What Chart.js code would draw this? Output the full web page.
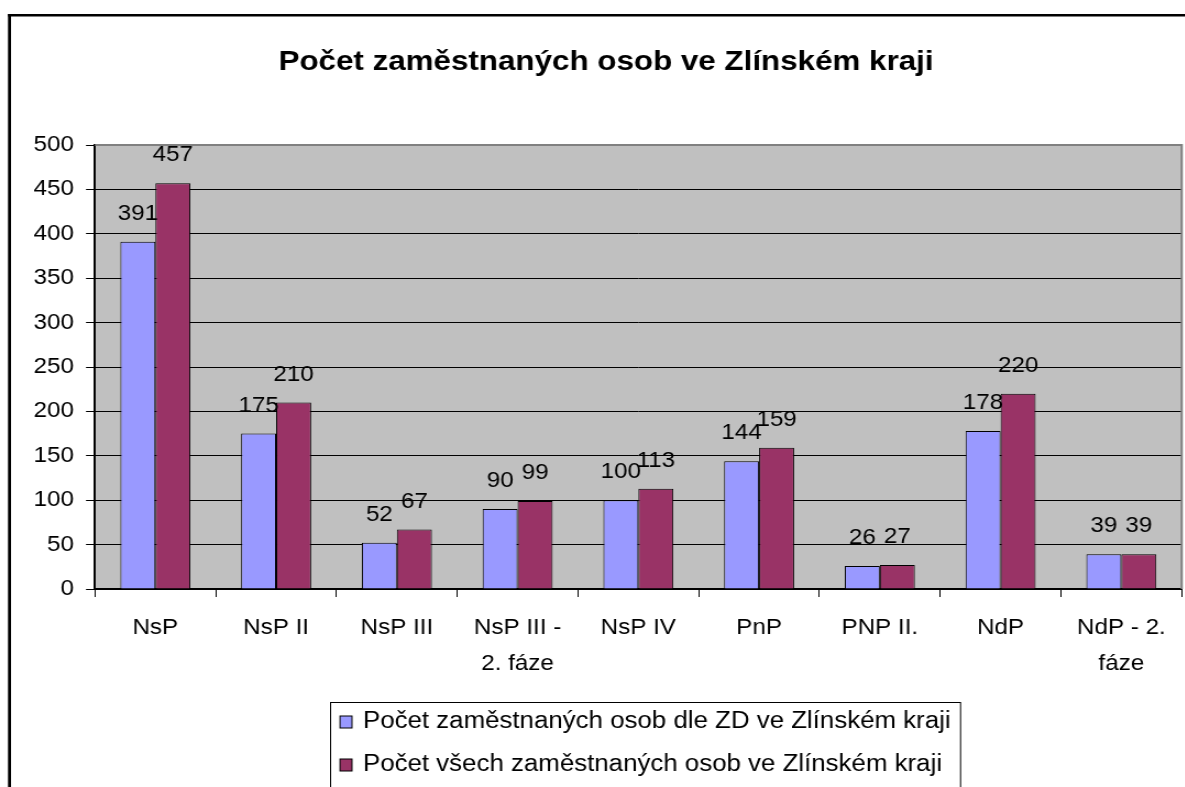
<!DOCTYPE html>
<html>
<head>
<meta charset="utf-8">
<script src="https://cdn.jsdelivr.net/npm/chart.js@4.4.1/dist/chart.umd.min.js"></script>
<style>
  html, body { margin: 0; padding: 0; background: #fff; overflow: hidden; }
  #wrap { position: absolute; left: 0; top: 0; width: 1077px; height: 787px; transform: scaleX(1.1); transform-origin: 0 0; }
</style>
</head>
<body>
<div id="wrap"><canvas id="chart" width="1077" height="787"></canvas></div>
<script>
// data
const categories = [
  "NsP", "NsP II", "NsP III", ["NsP III -", "2. fáze"], "NsP IV",
  "PnP", "PNP II.", "NdP", ["NdP - 2.", "fáze"]
];
const zdCounts = [391, 175, 52, 90, 100, 144, 26, 178, 39];
const allCounts = [457, 210, 67, 99, 113, 159, 27, 220, 39];
const yTicks = [0, 50, 100, 150, 200, 250, 300, 350, 400, 450, 500];
const seriesNames = [
  "Počet zaměstnaných osob dle ZD ve Zlínském kraji",
  "Počet všech zaměstnaných osob ve Zlínském kraji"
];
const TITLE = "Počet zaměstnaných osob ve Zlínském kraji";

// the original picture is stretched horizontally, we draw narrow and scale the canvas
const SX = 1.1;
const px = (x) => x / SX;
const FONT = "'Liberation Sans', Arial, sans-serif";

const excelLook = {
  id: "excelLook",
  beforeDraw(chart) {
    const { ctx, chartArea: a } = chart;
    ctx.save();
    ctx.fillStyle = "#fff";
    ctx.fillRect(0, 0, chart.width, chart.height);
    ctx.fillStyle = "#C0C0C0";
    ctx.fillRect(a.left, a.top, a.right - a.left, a.bottom - a.top);
    ctx.restore();
  },
  afterDatasetsDraw(chart) {
    const { ctx } = chart;
    ctx.save();
    ctx.font = "22px " + FONT;
    ctx.fillStyle = "#000";
    ctx.textAlign = "center";
    ctx.textBaseline = "middle";
    chart.data.datasets.forEach((ds, i) => {
      chart.getDatasetMeta(i).data.forEach((bar, j) => {
        ctx.fillText(String(ds.data[j]), bar.x, bar.y - 28);
      });
    });
    ctx.restore();
  },
  afterDraw(chart) {
    const { ctx, chartArea: a } = chart;
    ctx.save();
    // grey plot frame on top and right
    ctx.strokeStyle = "#808080";
    ctx.lineWidth = 2;
    ctx.beginPath();
    ctx.moveTo(a.left, a.top);
    ctx.lineTo(a.right, a.top);
    ctx.lineTo(a.right, a.bottom);
    ctx.stroke();

    // outer chart frame (left and top edges only are visible)
    ctx.fillStyle = "#000";
    ctx.fillRect(px(8), 14, px(3), chart.height);
    ctx.fillRect(px(8), 14, chart.width, 2.5);

    // title
    ctx.font = "bold 28.5px " + FONT;
    ctx.textAlign = "center";
    ctx.textBaseline = "middle";
    ctx.fillText(TITLE, px(606), 62);

    // legend box
    ctx.lineWidth = 1;
    ctx.strokeStyle = "#000";
    ctx.strokeRect(px(330) + 0.5, 702.5, px(960 - 330), 120);
    ctx.font = "23.5px " + FONT;
    ctx.textAlign = "left";
    const rows = [722, 765];
    chart.data.datasets.forEach((ds, i) => {
      const y = rows[i];
      ctx.fillStyle = ds.backgroundColor;
      ctx.fillRect(px(340), y - 6, px(12), 12);
      ctx.strokeRect(px(340), y - 6, px(12), 12);
      ctx.fillStyle = "#000";
      ctx.fillText(ds.label, px(363), y);
    });
    ctx.restore();
  }
};

new Chart(document.getElementById("chart"), {
  type: "bar",
  data: {
    labels: categories,
    datasets: [
      {
        label: seriesNames[0],
        data: zdCounts,
        backgroundColor: "#9999FF",
        borderColor: "#000",
        borderWidth: 1,
      },
      {
        label: seriesNames[1],
        data: allCounts,
        backgroundColor: "#993366",
        borderColor: "#000",
        borderWidth: 1,
      },
    ],
  },
  options: {
    responsive: false,
    animation: false,
    devicePixelRatio: 1,
    categoryPercentage: 0.58,
    barPercentage: 1,
    layout: { padding: { top: 145, right: px(3), left: 0, bottom: 0 } },
    plugins: {
      legend: { display: false },
      title: { display: false },
      tooltip: { enabled: false },
    },
    scales: {
      y: {
        min: yTicks[0],
        max: yTicks[yTicks.length - 1],
        afterBuildTicks: (scale) => {
          scale.ticks = yTicks.map((v) => ({ value: v }));
        },
        afterFit: (scale) => { scale.width = px(95); },
        ticks: {
          color: "#000",
          font: { family: FONT, size: 22 },
          padding: px(12),
        },
        grid: {
          color: "#000",
          lineWidth: 1,
          tickLength: px(9),
        },
        border: { color: "#000", width: 2 },
      },
      x: {
        afterFit: (scale) => { scale.height = 787 - 589; },
        ticks: {
          color: "#000",
          font: { family: FONT, size: 22, lineHeight: 36 / 22 },
          padding: 13,
          maxRotation: 0,
          autoSkip: false,
        },
        grid: {
          offset: true,
          drawOnChartArea: false,
          drawTicks: true,
          tickLength: 8,
          color: "#000",
          lineWidth: 1,
        },
        border: { color: "#000", width: 2 },
      },
    },
  },
  plugins: [excelLook],
});
</script>
</body>
</html>
